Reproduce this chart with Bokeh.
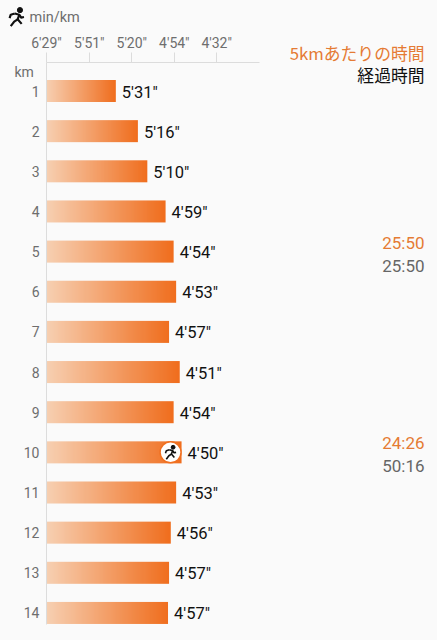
from bokeh.plotting import figure
from bokeh.embed import file_html
from bokeh.resources import INLINE
from bokeh.models import Range1d, FixedTicker
from bokeh.core.properties import value
import numpy as np

km = list(range(1, 15))
pace_labels = ["5'31\"", "5'16\"", "5'10\"", "4'59\"", "4'54\"", "4'53\"", "4'57\"", "4'51\"", "4'54\"", "4'50\"", "4'53\"", "4'56\"", "4'57\"", "4'57\""]
pace_seconds = [331, 316, 310, 299, 294.4, 293, 297, 291, 294.4, 290, 293, 296, 297, 297.6]
tick_seconds = [351, 320, 294, 272]
tick_labels = ["5'51\"", "5'20\"", "4'54\"", "4'32\""]
origin_seconds = 389
origin_label = "6'29\""
split_km = [5, 10]
split_pace = ["25:50", "24:26"]
split_total = ["25:50", "50:16"]

BG = "#fafafa"
W, H = 437, 640
AX_L, AX_T, AX_R, AX_B = 46, 62, 259, 624   # axis extents in window pixels
PXU = 153.9                # px per m/s
row = 40.15
speed = lambda s: 1000.0 / s
x0 = speed(origin_seconds)
wx = lambda px: x0 + (px - AX_L) / PXU
wy = lambda py: 1 + (py - 90.5) / row

p = figure(width=W, height=H, output_backend="svg", toolbar_location=None,
           x_range=Range1d(wx(0), wx(W)), y_range=Range1d(wy(H), wy(0)),
           x_axis_location="above", min_border=0,
           background_fill_color=BG, border_fill_color=BG, outline_line_color=None)
p.grid.visible = False

xa = p.xaxis[0]
all_ticks = [origin_seconds] + tick_seconds
xa.fixed_location = wy(AX_T)
xa.bounds = (x0, wx(AX_R))
xa.ticker = FixedTicker(ticks=[speed(s) for s in all_ticks])
xa.major_label_overrides = {speed(s): l for s, l in zip(all_ticks, [origin_label] + tick_labels)}
xa.major_tick_in = 0
xa.major_tick_out = 10
xa.minor_tick_out = 0
xa.minor_tick_in = 0
xa.axis_line_color = "#dcdcdc"
xa.major_tick_line_color = "#dcdcdc"
xa.major_label_text_font = "Roboto"
xa.major_label_text_font_size = "14px"
xa.major_label_text_color = "#6e6e6e"
xa.major_label_standoff = 2

ya = p.yaxis[0]
ya.fixed_location = x0
ya.bounds = (wy(AX_T), wy(AX_B))
ya.ticker = FixedTicker(ticks=km)
ya.major_tick_in = 0
ya.major_tick_out = 0
ya.minor_tick_out = 0
ya.minor_tick_in = 0
ya.axis_line_color = "#dcdcdc"
ya.major_label_text_font = "Roboto"
ya.major_label_text_font_size = "14px"
ya.major_label_text_color = "#6e6e6e"
ya.major_label_standoff = 7

speeds = [speed(s) for s in pace_seconds]

n = 128
t = np.linspace(0, 1, n)
c0 = np.array([247, 208, 178])
c1 = np.array([240, 110, 30])
img = np.zeros((1, n), dtype=np.uint32)
view = img.view(np.uint8).reshape((1, n, 4))
for i in range(3):
    view[0, :, i] = (c0[i] + (c1[i] - c0[i]) * t).astype(np.uint8)
view[0, :, 3] = 255
for k, v in zip(km, speeds):
    p.image_rgba(image=[img], x=x0, y=k - 11 / row, dw=v - x0, dh=22 / row)

p.text(x=speeds, y=km, text=pace_labels, x_offset=6, y_offset=1, text_baseline="middle",
       text_font=value("Roboto"), text_font_size="16.5px", text_color="#111111")

def runner(cx, cy, s=1.0, color="#111111", w=2.0):
    strokes = [[(-1.5, -3), (2.5, -2), (1, 2), (4.5, 6)],
               [(1, 2), (-2, 4), (-5, 8)],
               [(-1.5, -3), (-5, -2), (-6, 1)],
               [(2.5, -2), (4, 0.5), (6.5, 0)]]
    p.multi_line([[wx(cx + s * a) for a, _ in st] for st in strokes],
                 [[wy(cy + s * b) for _, b in st] for st in strokes],
                 line_color=color, line_width=w)
    p.scatter([wx(cx + s * 3)], [wy(cy - s * 6)], size=4.5 * s, color=color)

bar10_end = AX_L + (speeds[9] - x0) * PXU
p.scatter([wx(bar10_end - 11)], [10], size=21, fill_color="#ffffff", line_color="#f07020", line_width=1.5)
runner(bar10_end - 11, 90.5 + 9 * row, s=0.85, w=1.6)
runner(16, 16.5, s=1.15, w=2.2)

p.text(x=[wx(29)], y=[wy(17)], text=["min/km"], text_baseline="middle",
       text_font=value("Roboto"), text_font_size="14.5px", text_color="#6e6e6e")
p.text(x=[wx(14)], y=[wy(71)], text=["km"], text_baseline="middle",
       text_font=value("Roboto"), text_font_size="14px", text_color="#6e6e6e")

def rlabel(py, text, color, font="Roboto", size="17px"):
    p.text(x=[wx(424)], y=[wy(py)], text=[text], text_baseline="middle", text_align="right",
           text_font=value(font), text_font_size=size, text_color=color)

rlabel(52, "5kmあたりの時間", "#e57b34", "Noto Sans CJK JP", "16.8px")
rlabel(74, "経過時間", "#111111", "Noto Sans CJK JP", "16.8px")
for k, a, b in zip(split_km, split_pace, split_total):
    yy = 90.5 + (k - 1) * row
    rlabel(yy - 9, a, "#e57b34")
    rlabel(yy + 14, b, "#666666")

html = file_html(p, INLINE)
html = html.replace("<head>", "<head><style>html,body{background:#fafafa;margin:0}</style>", 1)
open("out.html", "w").write(html)
